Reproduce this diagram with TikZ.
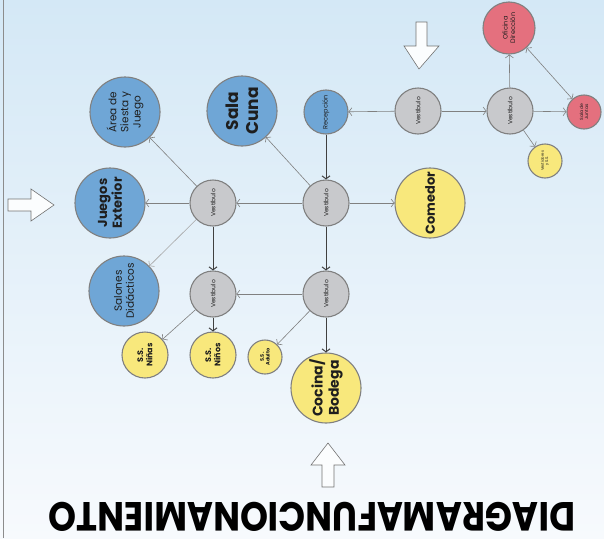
\documentclass[tikz,border=0pt]{standalone}
\usepackage{fontspec}
\setmainfont{Poppins}
\usepackage{graphicx}
\usetikzlibrary{arrows.meta}

\definecolor{roomblue}{RGB}{111,166,214}
\definecolor{roomyellow}{RGB}{248,232,124}
\definecolor{roomred}{RGB}{228,112,126}
\definecolor{hallgray}{RGB}{200,201,204}
\definecolor{ringgray}{RGB}{128,128,128}
\definecolor{skytop}{RGB}{212,232,246}
\definecolor{skybottom}{RGB}{247,250,253}
\definecolor{inkgray}{RGB}{30,30,30}

\newcommand{\fsz}[1]{\fontsize{#1}{1.15\dimexpr#1pt\relax}\selectfont}

\begin{document}
\begin{tikzpicture}[
  x=1pt, y=-1pt,
  room/.style={circle, draw=ringgray, line width=1.1pt, inner sep=0pt,
    align=center, rotate=90, text=inkgray},
  bigblue/.style={room, fill=roomblue, minimum size=70pt, font=\fsz{13}\bfseries},
  bigyellow/.style={room, fill=roomyellow, minimum size=70pt, font=\fsz{13}\bfseries},
  vest/.style={room, fill=hallgray, minimum size=46pt, font=\fsz{6}},
  smallyellow/.style={room, fill=roomyellow, minimum size=46pt, font=\fsz{8}\bfseries},
  tinyroom/.style={room, minimum size=34pt, font=\fsz{5}},
  arr/.style={-{Straight Barb[length=3pt,width=8pt]}, line width=0.6pt, ringgray},
  darr/.style={-{Straight Barb[length=3pt,width=8pt]}, line width=1pt, black!75},
  hollow/.style={draw=black!55, line width=0.6pt, fill=white!90!skytop},
]

% background
\shade[top color=skytop, bottom color=skybottom] (0,0) rectangle (604,538);
\useasboundingbox (0,0) rectangle (604,538);
\draw[black!45, line width=0.8pt] (3,0) -- (3,538);

% top row
\node[bigblue, font=\fsz{10.5}] (siesta) at (125,112) {Área de\\Siesta y\\Juego};
\node[bigblue, font=\fsz{17}\bfseries] (cuna) at (242,111) {Sala\\Cuna};
\node[tinyroom, fill=roomblue, minimum size=44pt, font=\fsz{6.5}] (recep) at (326,112) {Recepción};
\node[vest] (vtop) at (418,111) {Vestíbulo};
\node[vest] (vright) at (510,111) {Vestíbulo};
\node[tinyroom, fill=roomred, minimum size=52pt, font=\fsz{6.5}] (ofic) at (509,28) {Oficina\\Dirección};
\node[tinyroom, fill=roomred, font=\fsz{4.5}] (juntas) at (584,112) {Sala de\\Juntas};
\node[tinyroom, fill=roomyellow, font=\fsz{3.8}] (vestid) at (545,161) {Vestidores\\y S.S.};

% middle row
\node[bigblue] (juegos) at (110,203) {Juegos\\Exterior};
\node[vest] (vmidl) at (213,203) {Vestíbulo};
\node[vest] (vcen) at (326,203) {Vestíbulo};
\node[bigyellow] (comedor) at (430,203) {Comedor};

% lower row
\node[bigblue, font=\fsz{10.5}] (salones) at (124,291) {Salones\\Didácticos};
\node[vest] (vlowl) at (213,294) {Vestíbulo};
\node[vest] (vlowc) at (326,294) {Vestíbulo};
\node[smallyellow] (ninas) at (145,355) {S.S.\\Niñas};
\node[smallyellow] (ninos) at (213,355) {S.S.\\Niños};
\node[tinyroom, fill=roomyellow, font=\fsz{5}\bfseries] (adulto) at (265,357) {S.S.\\Adulto};
\node[bigyellow, font=\fsz{14}\bfseries] (cocina) at (326,388) {Cocina/\\Bodega};

% connectors
\draw[arr] (vtop) -- (recep);
\draw[arr] (vtop) -- (vright);
\draw[arr] (vright) -- (ofic);
\draw[arr] (vright) -- (juntas);
\draw[arr, {Straight Barb[length=3pt,width=8pt]}-{Straight Barb[length=3pt,width=8pt]}] (ofic) -- (juntas);
\draw[arr] (vright) -- (vestid);
\draw[darr] (recep) -- (vcen);
\draw[arr] (vcen) -- (cuna);
\draw[arr] (vcen) -- (vmidl);
\draw[arr] (vcen) -- (comedor);
\draw[darr] (vcen) -- (vlowc);
\draw[arr] (vmidl) -- (siesta);
\draw[arr] (vmidl) -- (juegos);
\draw[arr, black!35] (vmidl) -- (salones);
\draw[darr] (vmidl) -- (vlowl);
\draw[arr] (vlowc) -- (vlowl);
\draw[arr] (vlowc) -- (adulto);
\draw[darr] (vlowc) -- (cocina);
\draw[arr] (vlowl) -- (ninas);
\draw[darr] (vlowl) -- (ninos);

% entrance arrows
\draw[hollow] (8,199) -- (31,199) -- (31,189) -- (54,205) -- (31,221) -- (31,211) -- (8,211) -- cycle;
\draw[hollow] (416,22) -- (427,22) -- (427,46) -- (439,46) -- (419,69) -- (404,46) -- (416,46) -- cycle;
\draw[hollow] (322,487) -- (322,465) -- (311,465) -- (328,443) -- (345,465) -- (334,465) -- (334,487) -- cycle;

% title
\node[inner sep=0pt, rotate=180] (title) at (312,517)
  {\resizebox{526pt}{29pt}{\bfseries DIAGRAMAFUNCIONAMIENTO}};

\end{tikzpicture}
\end{document}
